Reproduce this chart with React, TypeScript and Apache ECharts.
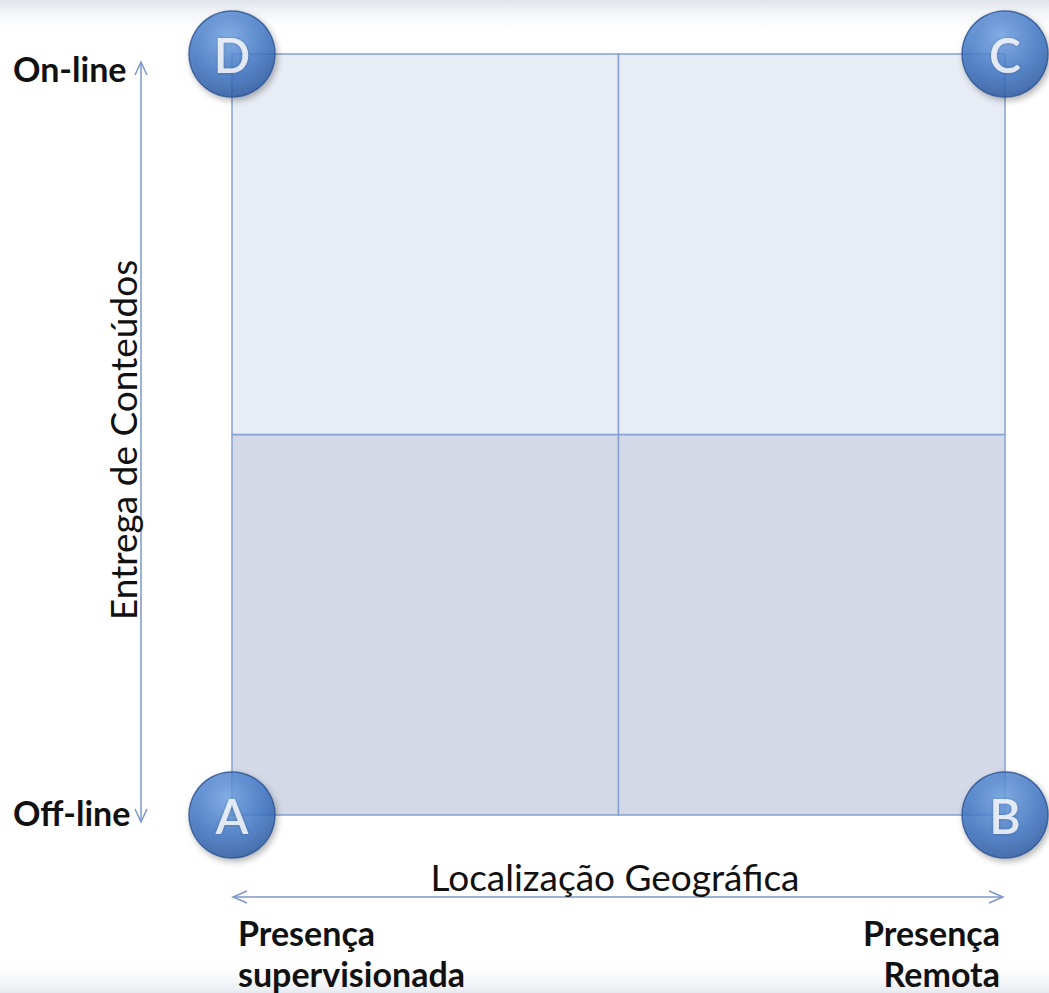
import React, { useEffect, useRef } from "react";
import * as echarts from "echarts";

// Quadrants: [x0, y0, x1, y1, shade]
const quadrants: number[][] = [
  [0, 0, 1, 1, 1],
  [1, 0, 2, 1, 1],
  [0, 1, 1, 2, 0],
  [1, 1, 2, 2, 0],
];
const quadrantColors = ["#e8ecf4", "#d3d9e7"];
// Corner markers
const corners: { name: string; value: number[] }[] = [
  { name: "A", value: [0, 0] },
  { name: "B", value: [2, 0] },
  { name: "C", value: [2, 2] },
  { name: "D", value: [0, 2] },
];
const yTop = "On-line";
const yBottom = "Off-line";
const yTitle = "Entrega de Conteúdos";
const xTitle = "Localização Geográfica";
const xLeft = "Presença\nsupervisionada";
const xRight = "Presença\nRemota";

const FONT = "Lato, 'Open Sans', sans-serif";
const ARROW = "#7c97c8";

export default function App() {
  const ref = useRef<HTMLDivElement>(null);
  useEffect(() => {
    document.body.style.margin = "0";
    const chart = echarts.init(ref.current!, null, { renderer: "svg" });
    const option: any = {
      animation: false,
      backgroundColor: "#ffffff",
      grid: { left: 232, right: 44, top: 54, bottom: 178 },
      xAxis: { type: "value", min: 0, max: 2, show: false },
      yAxis: { type: "value", min: 0, max: 2, show: false },
      graphic: [
        {
          type: "rect",
          z: -10,
          silent: true,
          shape: { x: 0, y: 0, width: 1049, height: 36 },
          style: {
            fill: new echarts.graphic.LinearGradient(0, 0, 0, 1, [
              { offset: 0, color: "#dfe4ec" },
              { offset: 1, color: "rgba(255,255,255,0)" },
            ]),
          },
        },
        {
          type: "rect",
          z: -10,
          silent: true,
          shape: { x: 0, y: 960, width: 1049, height: 33 },
          style: {
            fill: new echarts.graphic.LinearGradient(0, 0, 0, 1, [
              { offset: 0, color: "rgba(255,255,255,0)" },
              { offset: 1, color: "#e6eaf0" },
            ]),
          },
        },
        // vertical arrow
        {
          type: "line",
          shape: { x1: 141, y1: 62, x2: 141, y2: 822 },
          style: { stroke: ARROW, lineWidth: 1.5 },
        },
        {
          type: "polyline",
          shape: { points: [[135, 75], [141, 62], [147, 75]] },
          style: { stroke: ARROW, lineWidth: 1.5, fill: null },
        },
        {
          type: "polyline",
          shape: { points: [[135, 809], [141, 822], [147, 809]] },
          style: { stroke: ARROW, lineWidth: 1.5, fill: null },
        },
        // horizontal arrow
        {
          type: "line",
          shape: { x1: 233, y1: 897, x2: 1003, y2: 897 },
          style: { stroke: ARROW, lineWidth: 1.5 },
        },
        {
          type: "polyline",
          shape: { points: [[247, 891], [233, 897], [247, 903]] },
          style: { stroke: ARROW, lineWidth: 1.5, fill: null },
        },
        {
          type: "polyline",
          shape: { points: [[989, 891], [1003, 897], [989, 903]] },
          style: { stroke: ARROW, lineWidth: 1.5, fill: null },
        },
        {
          type: "text",
          x: 13,
          y: 68,
          style: { text: yTop, font: `bold 34px ${FONT}`, fill: "#111", textVerticalAlign: "middle" },
        },
        {
          type: "text",
          x: 13,
          y: 812,
          style: { text: yBottom, font: `bold 34px ${FONT}`, fill: "#111", textVerticalAlign: "middle" },
        },
        {
          type: "text",
          x: 122,
          y: 440,
          rotation: Math.PI / 2,
          style: {
            text: yTitle,
            font: `37px ${FONT}`,
            fill: "#111",
            textAlign: "center",
            textVerticalAlign: "middle",
          },
        },
        {
          type: "text",
          x: 615,
          y: 876,
          style: {
            text: xTitle,
            font: `37px ${FONT}`,
            fill: "#111",
            textAlign: "center",
            textVerticalAlign: "middle",
          },
        },
        {
          type: "text",
          x: 238,
          y: 953,
          style: {
            text: xLeft,
            font: `bold 34px ${FONT}`,
            lineHeight: 41,
            fill: "#111",
            textAlign: "left",
            textVerticalAlign: "middle",
          },
        },
        {
          type: "text",
          x: 1000,
          y: 953,
          style: {
            text: xRight,
            font: `bold 34px ${FONT}`,
            lineHeight: 41,
            fill: "#111",
            textAlign: "right",
            textVerticalAlign: "middle",
          },
        },
      ],
      series: [
        {
          type: "custom",
          data: quadrants,
          z: 1,
          renderItem: (params: any, api: any) => {
            const p0 = api.coord([api.value(0), api.value(3)]);
            const p1 = api.coord([api.value(2), api.value(1)]);
            return {
              type: "rect",
              shape: { x: p0[0], y: p0[1], width: p1[0] - p0[0], height: p1[1] - p0[1] },
              style: {
                fill: quadrantColors[api.value(4)],
                stroke: "#86a1d0",
                lineWidth: 1.5,
              },
            };
          },
        },
        {
          type: "scatter",
          z: 5,
          data: corners,
          symbolSize: 86,
          itemStyle: {
            color: new echarts.graphic.RadialGradient(0.45, 0.3, 0.75, [
              { offset: 0, color: "#70a4e6" },
              { offset: 0.6, color: "#3c73c4" },
              { offset: 1, color: "#27549c" },
            ]),
            borderColor: "#2c5492",
            borderWidth: 1.5,
            shadowColor: "rgba(0,0,0,0.35)",
            shadowBlur: 6,
            shadowOffsetX: 2,
            shadowOffsetY: 3,
          },
          label: {
            show: true,
            position: "inside",
            formatter: (p: any) => p.name,
            color: "#ffffff",
            fontFamily: FONT,
            fontWeight: 600,
            fontSize: 48,
            textShadowColor: "rgba(0,0,0,0.3)",
            textShadowBlur: 3,
          },
        },
      ],
    };
    chart.setOption(option);
    return () => chart.dispose();
  }, []);
  return (
    <div
      ref={ref}
      style={{ position: "absolute", left: 0, top: 0, width: 1049, height: 993 }}
    />
  );
}
